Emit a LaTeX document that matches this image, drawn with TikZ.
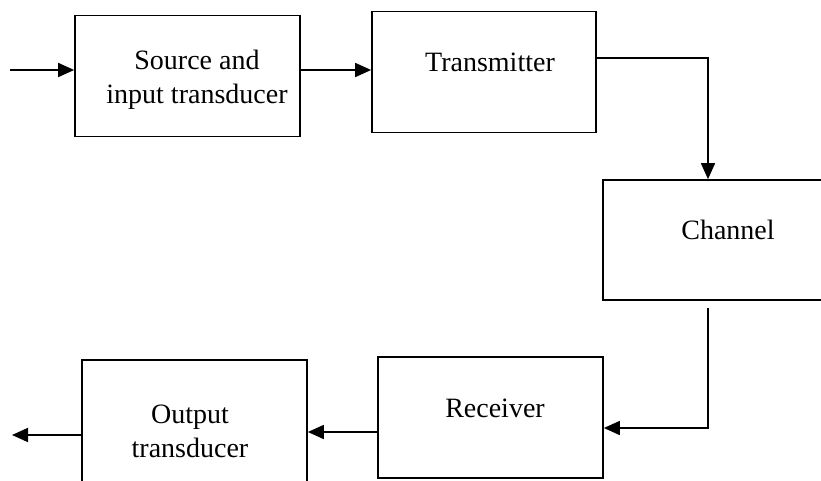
\documentclass[tikz,border=0pt]{standalone}
\usepackage{fontspec}
\setmainfont{Liberation Serif}
\usetikzlibrary{arrows.meta}
\tikzset{
  blocco/.style={draw, line width=1.7pt, minimum width=225pt, minimum height=121pt, inner sep=0pt},
  testo/.style={align=center, font=\fontsize{28}{34}\selectfont},
  freccia/.style={line width=1.7pt, -{Triangle[length=16pt,width=14pt]}}
}
\begin{document}
\begin{tikzpicture}[x=1pt, y=-1pt]
        \useasboundingbox (0,0) rectangle (821,481);
        \clip (0,0) rectangle (821,481);
        % Blocchi
        \node[blocco] (src) at (187.5,76) {};
        \node[blocco, minimum width=224pt] (tx) at (484,72) {};
        \node[blocco, minimum width=232pt, minimum height=120pt] (ch) at (719,240) {};
        \node[blocco] (rx) at (490.5,417.5) {};
        \node[blocco, minimum height=130pt] (out) at (194.5,425) {};
        % Etichette
        \node[testo] (srcl) at (197,80) {Source and\\input transducer};
        \node[testo] (txl) at (490,62) {Transmitter};
        \node[testo] (chl) at (728,230) {Channel};
        \node[testo] (rxl) at (495,408) {Receiver};
        \node[testo] (outl) at (190,431) {Output\\transducer};
        % Punti di servizio
        \coordinate (ingresso) at (10,70);
        \coordinate (uscita) at (12,435);
        \coordinate (giu) at (708,428);
        % Frecce
        \draw[freccia] (ingresso) -- (ingresso -| src.west);
        \draw[freccia] (src.east |- ingresso) -- (tx.west |- ingresso);
        \draw[freccia] (tx.east |- 0,58) -| (ch.north -| giu);
        \draw[freccia] ([yshift=-7pt]ch.south -| giu) -- (giu) -- (rx.east |- giu);
        \draw[freccia] (rx.west |- 0,432) -- (out.east |- 0,432);
        \draw[freccia] (out.west |- uscita) -- (uscita);
    \end{tikzpicture}
\end{document}
